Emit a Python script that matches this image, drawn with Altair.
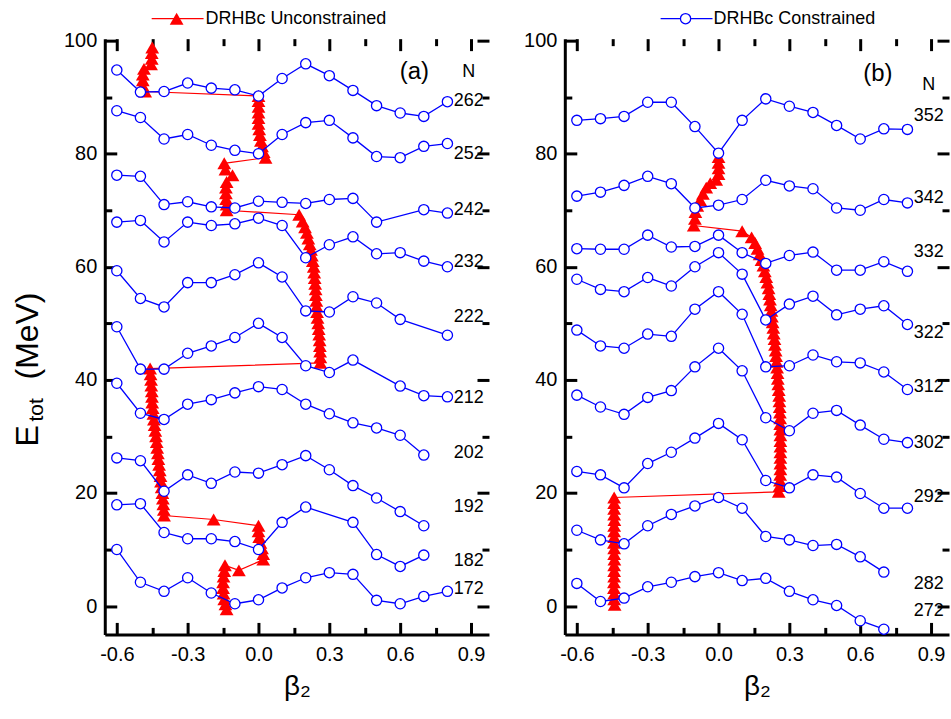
import altair as alt
import pandas as pd

FONT = "Liberation Sans"
BLUE = "#0000ff"
RED = "#ff0000"
W, H = 385, 597
XD = [-0.651, 0.976]
YD = [-5.02, 100.35]

BETA = [-0.6, -0.5, -0.4, -0.3, -0.2, -0.1, 0.0, 0.1, 0.2, 0.3, 0.4, 0.5, 0.6, 0.7, 0.8]

# ---------------- panel (a): constrained curves ----------------
a_N = ["262", "252", "242", "232", "222", "212", "202", "192", "182", "172"]
a_E262 = [94.8, 90.9, 91.0, 92.5, 91.6, 91.3, 90.2, 93.3, 95.9, 93.8, 91.2, 88.5, 87.2, 86.6, 89.2]
a_E252 = [87.6, 86.4, 82.6, 83.4, 81.5, 80.6, 80.0, 83.4, 85.5, 85.9, 82.8, 79.5, 79.3, 81.3, 81.8]
a_E242 = [76.2, 76.0, 71.0, 71.5, 70.6, 70.4, 71.6, 71.4, 71.2, 71.9, 72.1, 67.9, None, 70.1, 69.5]
a_E232 = [67.9, 68.2, 64.4, 67.9, 67.3, 67.6, 68.6, 67.3, 61.6, 63.9, 65.3, 62.3, 62.5, 61.0, 60.0]
a_E222 = [59.3, 54.4, 52.9, 57.2, 57.2, 58.6, 60.7, 58.2, 52.2, 52.0, 54.7, 53.6, 50.7, None, 47.9]
a_E212 = [49.4, 41.9, 41.9, 44.7, 46.0, 47.5, 50.0, 47.5, 42.5, 41.3, 43.5, None, 38.9, 37.2, 37.0]
a_E202 = [39.4, 34.1, 33.0, 35.7, 36.5, 37.7, 38.8, 38.3, 35.7, 34.0, 32.4, 31.5, 30.2, 26.7, None]
a_E192 = [26.2, 25.7, 20.3, 23.2, 21.7, 23.7, 23.5, 25.0, 26.6, 24.1, 21.3, 19.1, 16.7, 14.2, None]
a_E182 = [17.9, 18.1, 13.0, 11.9, 11.9, 11.4, 10.0, 14.8, 17.5, None, 14.8, 9.1, 7.0, 9.0, None]
a_E172 = [10.0, 4.2, 2.6, 5.0, 2.3, 0.4, 1.1, 3.2, 5.0, 5.9, 5.6, 1.0, 0.4, 1.7, 2.6]
a_curves = [a_E262, a_E252, a_E242, a_E232, a_E222, a_E212, a_E202, a_E192, a_E182, a_E172]

# panel (a): unconstrained ground states (beta, E) in path order
a_red_beta = [
    -0.135, -0.140, -0.145, -0.148, -0.150, -0.150, -0.148, -0.145, -0.142,
    -0.083,
    0.020, 0.020, 0.015, 0.008, 0.003, 0.000, 0.000,
    -0.190,
    -0.400, -0.401, -0.403, -0.405, -0.407, -0.410, -0.413, -0.415, -0.418, -0.421,
    -0.424, -0.426, -0.429, -0.431, -0.434, -0.437, -0.440, -0.443, -0.445, -0.448,
    -0.450, -0.451, -0.452, -0.454, -0.455, -0.457, -0.459,
    0.262, 0.262, 0.261, 0.260, 0.259, 0.257, 0.255, 0.253, 0.250, 0.248,
    0.246, 0.245, 0.243, 0.242, 0.240, 0.238, 0.236, 0.234, 0.230, 0.226,
    0.222, 0.217, 0.211, 0.205, 0.197, 0.187, 0.172,
    -0.135, -0.135, -0.137, -0.138, -0.138, -0.135, -0.110, -0.140, -0.145,
    0.030, 0.022, 0.015, 0.010, 0.006, 0.003, 0.000, 0.000, 0.000, 0.000, 0.000, 0.000,
    -0.480, -0.490, -0.490, -0.490, -0.485, -0.455, -0.452, -0.452, -0.450,
]
a_red_E = [
    -0.6, 0.3, 1.2, 2.2, 3.2, 4.2, 5.2, 6.2, 7.2,
    6.3,
    8.2, 9.2, 10.2, 11.2, 12.2, 13.2, 14.2,
    15.3,
    16.0, 17.0, 18.0, 19.0, 20.0, 21.0, 22.0, 23.0, 24.0, 25.0,
    26.0, 27.0, 28.0, 29.0, 30.0, 31.0, 32.0, 33.0, 34.0, 35.0,
    36.0, 37.0, 38.0, 39.0, 40.0, 41.0, 42.0,
    43.0, 44.0, 45.0, 46.0, 47.0, 48.0, 49.0, 50.0, 51.0, 52.0,
    53.0, 54.0, 55.0, 56.0, 57.0, 58.0, 59.0, 60.0, 61.0, 62.0,
    63.0, 64.0, 65.0, 66.0, 67.0, 68.0, 69.2,
    70.0, 71.0, 72.0, 73.0, 74.0, 75.0, 76.2, 77.2, 78.3,
    79.3, 80.3, 81.3, 82.3, 83.3, 84.3, 85.3, 86.3, 87.3, 88.3, 89.3, 90.2,
    91.0, 92.0, 93.0, 94.0, 95.0, 95.8, 96.8, 97.8, 98.8,
]
a_lab_text = ["N", "262", "252", "242", "232", "222", "212", "202", "192", "182", "172"]
a_lab_E = [94.4, 89.4, 80.0, 70.0, 60.8, 51.2, 36.8, 27.0, 17.5, 7.9, 3.0]

# ---------------- panel (b) ----------------
b_N = ["352", "342", "332", "322", "312", "302", "292", "282", "272"]
b_E352 = [85.9, 86.2, 86.6, 89.1, 89.1, 84.8, 80.1, 85.9, 89.7, 88.4, 87.3, 85.0, 82.6, 84.4, 84.3]
b_E342 = [72.5, 73.2, 74.4, 76.0, 74.7, 70.4, 70.9, 71.9, 75.3, 74.3, 73.8, 70.4, 70.0, 71.9, 71.3]
b_E332 = [63.2, 63.1, 63.1, 65.6, 63.5, 63.6, 65.6, 62.5, 60.6, 62.0, 62.6, 59.4, 59.4, 60.9, 59.2]
b_E322 = [57.8, 56.0, 55.6, 58.1, 56.6, 60.0, 62.5, 58.7, 50.6, 53.4, 54.8, 51.5, 52.5, 53.1, 49.8]
b_E312 = [48.8, 46.0, 45.6, 48.1, 47.7, 52.5, 55.6, 51.6, 42.3, 42.5, 44.4, 43.2, 43.0, 41.4, 38.3]
b_E302 = [37.3, 35.2, 33.9, 36.9, 38.1, 42.3, 45.6, 41.6, 33.3, 31.0, 34.1, 34.6, 32.0, 29.5, 28.9]
b_E292 = [23.8, 23.2, 20.9, 25.2, 27.2, 29.7, 32.3, 29.4, 22.2, 20.9, 23.2, 22.8, 19.9, 17.3, 17.3]
b_E282 = [13.4, 11.7, 11.0, 14.2, 16.2, 17.7, 19.2, 17.3, 12.3, 11.7, 10.7, 10.9, 8.7, 6.0, None]
b_E272 = [4.0, 0.8, 1.4, 3.4, 4.2, 5.2, 5.9, 4.5, 4.9, 2.6, 1.1, 0.1, -2.6, -4.1, None]
b_curves = [b_E352, b_E342, b_E332, b_E322, b_E312, b_E302, b_E292, b_E282, b_E272]

b_red_beta = [
    -0.440, -0.442, -0.442, -0.443, -0.443, -0.442, -0.442, -0.442, -0.441, -0.442,
    -0.442, -0.443, -0.442, -0.442, -0.442, -0.441, -0.442, -0.442, -0.442, -0.442,
    0.255, 0.258, 0.260, 0.261, 0.262, 0.262, 0.262, 0.262, 0.262, 0.262,
    0.262, 0.262, 0.261, 0.261, 0.260, 0.259, 0.258, 0.257, 0.255, 0.253,
    0.251, 0.250, 0.248, 0.246, 0.244, 0.242, 0.239, 0.237, 0.234, 0.232,
    0.229, 0.226, 0.224, 0.221, 0.218, 0.215, 0.212, 0.207, 0.202, 0.196,
    0.190, 0.182, 0.174, 0.165, 0.155, 0.140, 0.100,
    -0.105, -0.100, -0.098, -0.090, -0.078, -0.066, -0.052, -0.035, -0.010,
    0.000, 0.000, 0.000, 0.000,
]
b_red_E = [
    0.2, 1.2, 2.2, 3.2, 4.2, 5.2, 6.2, 7.2, 8.2, 9.2,
    10.2, 11.2, 12.2, 13.2, 14.2, 15.2, 16.2, 17.2, 18.2, 19.2,
    20.2, 21.2, 22.2, 23.2, 24.2, 25.2, 26.2, 27.2, 28.2, 29.2,
    30.2, 31.2, 32.2, 33.2, 34.2, 35.2, 36.2, 37.2, 38.2, 39.2,
    40.2, 41.2, 42.2, 43.2, 44.2, 45.2, 46.2, 47.2, 48.2, 49.2,
    50.2, 51.2, 52.2, 53.2, 54.2, 55.2, 56.2, 57.2, 58.2, 59.2,
    60.2, 61.2, 62.2, 63.2, 64.2, 65.2, 66.3,
    67.3, 68.5, 69.7, 70.8, 71.8, 72.9, 74.0, 74.8, 75.4,
    76.4, 77.4, 78.4, 79.4,
]
b_lab_text = ["N", "352", "342", "332", "322", "312", "302", "292", "282", "272"]
b_lab_E = [92.1, 86.6, 72.1, 62.6, 48.2, 38.8, 28.9, 19.2, 3.9, -0.9]

LAB_BETA = 0.89

# ---------------- axes ----------------
X_TICKS = [-0.6, -0.45, -0.3, -0.15, 0.0, 0.15, 0.3, 0.45, 0.6, 0.75, 0.9]
X_MAJOR = [-0.6, -0.3, 0.0, 0.3, 0.6, 0.9]
Y_TICKS = [0, 10, 20, 30, 40, 50, 60, 70, 80, 90, 100]
Y_MAJOR = [0, 20, 40, 60, 80, 100]

X_MAJ_TEST = "abs(datum.value / 0.3 - round(datum.value / 0.3)) < 0.01"
Y_MAJ_TEST = "abs(datum.value % 20) < 0.01"


def tick_axis(orient, values, test, offset):
    return alt.Axis(
        orient=orient, offset=offset, values=values, labels=False, domain=False,
        grid=False, title=None, tickColor="black", tickWidth=3,
        tickSize={"condition": {"test": test, "value": 12}, "value": 7},
    )


x_main = alt.Axis(
    values=X_MAJOR, ticks=False, grid=False, domainColor="black", domainWidth=3,
    labelFont=FONT, labelFontSize=20, labelColor="black", labelPadding=10,
    labelFlush=False, labelOverlap=False,
    labelExpr="datum.value < 0 ? '-' + format(-datum.value, '.1f') : format(datum.value, '.1f')",
    title="β₂", titleFont=FONT, titleFontSize=28, titleFontWeight="normal",
    titleColor="black", titlePadding=8,
)
y_main = alt.Axis(
    values=Y_MAJOR, ticks=False, grid=False, domainColor="black", domainWidth=3,
    labelFont=FONT, labelFontSize=20, labelColor="black", labelPadding=8,
    labelOverlap=False, title=None,
)

xs = alt.Scale(domain=XD, nice=False, zero=False)
ys = alt.Scale(domain=YD, nice=False, zero=False)

one = pd.DataFrame({"k": [0]})


def curves_df(names, curves):
    rows = []
    for n, es in zip(names, curves):
        for b, e in zip(BETA, es):
            if e is not None:
                rows.append({"N": n, "b": b, "E": e})
    return pd.DataFrame(rows)


def panel(names, curves, rb, re_, lab_text, lab_e, tag, tag_b, tag_e, legend, ytitle):
    bdf = curves_df(names, curves)
    rdf = pd.DataFrame({"i": list(range(len(rb))), "b": rb, "E": re_})
    ldf = pd.DataFrame({"t": lab_text, "b": [LAB_BETA] * len(lab_text), "E": lab_e})
    tdf = pd.DataFrame({"t": [tag], "b": [tag_b], "E": [tag_e]})

    red_line = alt.Chart(rdf).mark_line(color=RED, strokeWidth=1.2).encode(
        x=alt.X("b:Q", scale=xs, axis=x_main),
        y=alt.Y("E:Q", scale=ys, axis=y_main),
        order="i:Q",
    )
    red_pts = alt.Chart(rdf).mark_point(
        shape="triangle-up", filled=True, color=RED, size=190, opacity=1, strokeWidth=0
    ).encode(
        x=alt.X("b:Q", scale=xs, axis=tick_axis("top", X_TICKS, X_MAJ_TEST, -H)),
        y=alt.Y("E:Q", scale=ys, axis=tick_axis("right", Y_TICKS, Y_MAJ_TEST, -W)),
    )
    blue_line = alt.Chart(bdf).mark_line(color=BLUE, strokeWidth=1.3).encode(
        x=alt.X("b:Q", scale=xs, axis=tick_axis("bottom", X_TICKS, X_MAJ_TEST, -H)),
        y=alt.Y("E:Q", scale=ys, axis=tick_axis("left", Y_TICKS, Y_MAJ_TEST, -W)),
        detail="N:N",
        order="b:Q",
    )
    blue_pts = alt.Chart(bdf).mark_point(
        shape="circle", filled=True, fill="white", stroke=BLUE, strokeWidth=1.3,
        size=105, opacity=1,
    ).encode(
        x=alt.X("b:Q", scale=xs, axis=None),
        y=alt.Y("E:Q", scale=ys, axis=None),
    )
    labels = alt.Chart(ldf).mark_text(
        font=FONT, fontSize=18, color="black", align="center", baseline="middle"
    ).encode(
        x=alt.X("b:Q", scale=xs, axis=None),
        y=alt.Y("E:Q", scale=ys, axis=None),
        text="t:N",
    )
    tagm = alt.Chart(tdf).mark_text(
        font=FONT, fontSize=24, color="black", align="center", baseline="middle"
    ).encode(
        x=alt.X("b:Q", scale=xs, axis=None),
        y=alt.Y("E:Q", scale=ys, axis=None),
        text="t:N",
    )
    layers = [red_line, red_pts, blue_line, blue_pts, labels, tagm]

    # legend entry drawn above the panel
    if legend == "red":
        lx0, lx1, lxm, ltx, ltxt = 47, 99, 72, 101, "DRHBc Unconstrained"
        sym = alt.Chart(one).mark_point(
            shape="triangle-up", filled=True, color=RED, size=190, opacity=1, strokeWidth=0
        ).encode(x=alt.value(lxm), y=alt.value(-20))
        col = RED
    else:
        lx0, lx1, lxm, ltx, ltxt = 96, 148, 121, 149, "DRHBc Constrained"
        sym = alt.Chart(one).mark_point(
            shape="circle", filled=True, fill="white", stroke=BLUE, strokeWidth=1.3,
            size=105, opacity=1,
        ).encode(x=alt.value(lxm), y=alt.value(-20))
        col = BLUE
    lline = alt.Chart(one).mark_rule(color=col, strokeWidth=1.3).encode(
        x=alt.value(lx0), x2=alt.value(lx1), y=alt.value(-20)
    )
    ltext = alt.Chart(one).mark_text(
        text=ltxt, font=FONT, fontSize=18, color="black", align="left", baseline="middle"
    ).encode(x=alt.value(ltx), y=alt.value(-20))
    layers += [lline, sym, ltext]

    if ytitle:
        t1 = alt.Chart(one).mark_text(
            text="E", font=FONT, fontSize=32, angle=270, color="black",
            align="center", baseline="middle",
        ).encode(x=alt.value(-77), y=alt.value(398))
        t2 = alt.Chart(one).mark_text(
            text="tot", font=FONT, fontSize=21, angle=270, color="black",
            align="center", baseline="middle",
        ).encode(x=alt.value(-68), y=alt.value(372))
        t3 = alt.Chart(one).mark_text(
            text="(MeV)", font=FONT, fontSize=32, angle=270, color="black",
            align="center", baseline="middle",
        ).encode(x=alt.value(-77), y=alt.value(298))
        layers += [t1, t2, t3]

    return alt.layer(*layers).resolve_axis(x="independent", y="independent").properties(
        width=W, height=H
    )


pa = panel(a_N, a_curves, a_red_beta, a_red_E, a_lab_text, a_lab_E, "(a)", 0.66, 94.4, "red", True)
pb = panel(b_N, b_curves, b_red_beta, b_red_E, b_lab_text, b_lab_E, "(b)", 0.675, 94.1, "blue", False)

chart = (
    alt.hconcat(pa, pb, spacing=76, bounds="flush")
    .properties(padding={"left": 12, "top": 9, "right": 0, "bottom": 0}, background="white")
    .configure_view(stroke=None)
)

chart.save("out.html", embed_options={"renderer": "svg", "actions": False})
